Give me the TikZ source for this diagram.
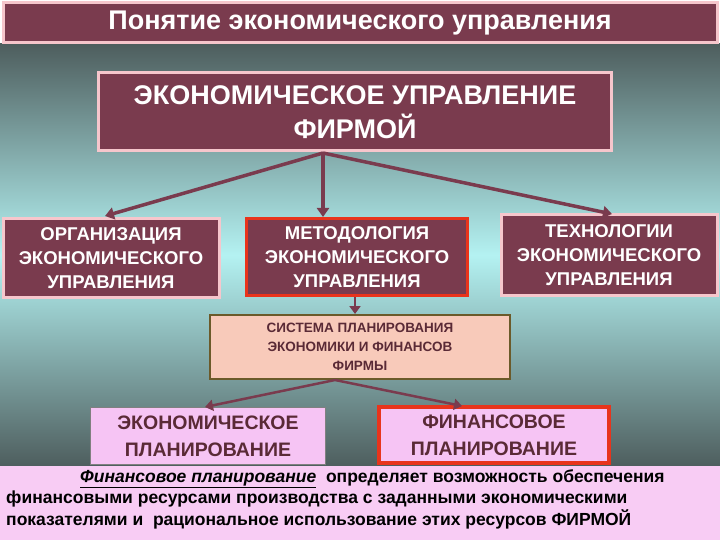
\documentclass[tikz,border=0pt]{standalone}
\usepackage{fontspec}
\setmainfont{Liberation Sans}
\usetikzlibrary{arrows.meta}
\definecolor{maroon}{HTML}{7A3B4E}
\definecolor{pinkb}{HTML}{F6C6CC}
\definecolor{redb}{HTML}{E8341C}
\definecolor{peach}{HTML}{F8CABA}
\definecolor{olive}{HTML}{6B5A2A}
\definecolor{lilac}{HTML}{F6C4F4}
\definecolor{band}{HTML}{F8CCF4}
\definecolor{darkbg}{HTML}{4E5E5E}
\definecolor{lightbg}{HTML}{B4F2F2}
\definecolor{txtm}{HTML}{5A2A36}
\tikzset{
 mbox/.style={fill=maroon,draw=pinkb,line width=3pt,text=white,font=\bfseries,align=center,inner sep=0pt},
 rbox/.style={mbox,draw=redb},
 arr/.style={draw=maroon,line width=3.5pt,-{Triangle[length=9pt,width=12pt]}},
 arr2/.style={draw=maroon,line width=2.5pt,-{Triangle[length=8pt,width=11pt]}},
}
\begin{document}
\begin{tikzpicture}[x=1pt,y=-1pt]
\useasboundingbox (0,0) rectangle (720,540);
\shade[top color=darkbg,bottom color=darkbg,middle color=lightbg] (0,44) rectangle (720,466);
\fill[band] (0,466) rectangle (720,540);
\node[mbox,minimum width=714pt,minimum height=40pt,font=\bfseries\fontsize{27}{29}\selectfont] (hdr) at (360,23) {Понятие экономического управления};
\node[mbox,minimum width=513pt,minimum height=78pt,font=\bfseries\fontsize{27}{34}\selectfont] (main) at (355,112) {ЭКОНОМИЧЕСКОЕ УПРАВЛЕНИЕ\\ФИРМОЙ};
\node[mbox,minimum width=216pt,minimum height=78pt,font=\bfseries\fontsize{18.5}{24}\selectfont] (org) at (111,258) {ОРГАНИЗАЦИЯ\\ЭКОНОМИЧЕСКОГО\\УПРАВЛЕНИЯ};
\node[rbox,minimum width=221pt,minimum height=77pt,font=\bfseries\fontsize{18.5}{24}\selectfont] (met) at (357,257) {МЕТОДОЛОГИЯ\\ЭКОНОМИЧЕСКОГО\\УПРАВЛЕНИЯ};
\node[mbox,minimum width=216pt,minimum height=80pt,font=\bfseries\fontsize{18.5}{24}\selectfont] (tech) at (609,255) {ТЕХНОЛОГИИ\\ЭКОНОМИЧЕСКОГО\\УПРАВЛЕНИЯ};
\node[fill=peach,draw=olive,line width=2pt,minimum width=300pt,minimum height=64pt,align=center,inner sep=0pt,text=txtm,font=\bfseries\fontsize{13.5}{19}\selectfont] (sys) at (360,347) {СИСТЕМА ПЛАНИРОВАНИЯ\\ЭКОНОМИКИ И ФИНАНСОВ\\ФИРМЫ};
\node[fill=lilac,draw=gray,line width=0.8pt,minimum width=235pt,minimum height=57pt,align=center,inner sep=0pt,text=txtm,font=\bfseries\fontsize{19.5}{27}\selectfont] (ep) at (208,436) {ЭКОНОМИЧЕСКОЕ\\ПЛАНИРОВАНИЕ};
\node[fill=lilac,draw=redb,line width=3.5pt,minimum width=230pt,minimum height=56pt,align=center,inner sep=0pt,text=txtm,font=\bfseries\fontsize{19.5}{27}\selectfont] (fp) at (494,435) {ФИНАНСОВОЕ\\ПЛАНИРОВАНИЕ};
\coordinate (src) at (323,153);
\draw[arr] (src) -- (105,216);
\draw[arr] (src) -- (met.north -| src);
\draw[arr] (src) -- (612,214);
\draw[arr2] (met.south -| 355,0) -- (sys.north -| 355,0);
\coordinate (s2) at (335,380);
\draw[arr2] (s2) -- (205,407);
\draw[arr2] (s2) -- (462,406);
\node[anchor=north west,align=left,inner sep=0pt,font=\bfseries\fontsize{17.5}{21.5}\selectfont] (txt) at (6,469) {\hspace*{74pt}\underline{\itshape Финансовое планирование}\ \ определяет возможность обеспечения\\финансовыми ресурсами производства с заданными экономическими\\показателями и\ \ рациональное использование этих ресурсов ФИРМОЙ};
\end{tikzpicture}
\end{document}
